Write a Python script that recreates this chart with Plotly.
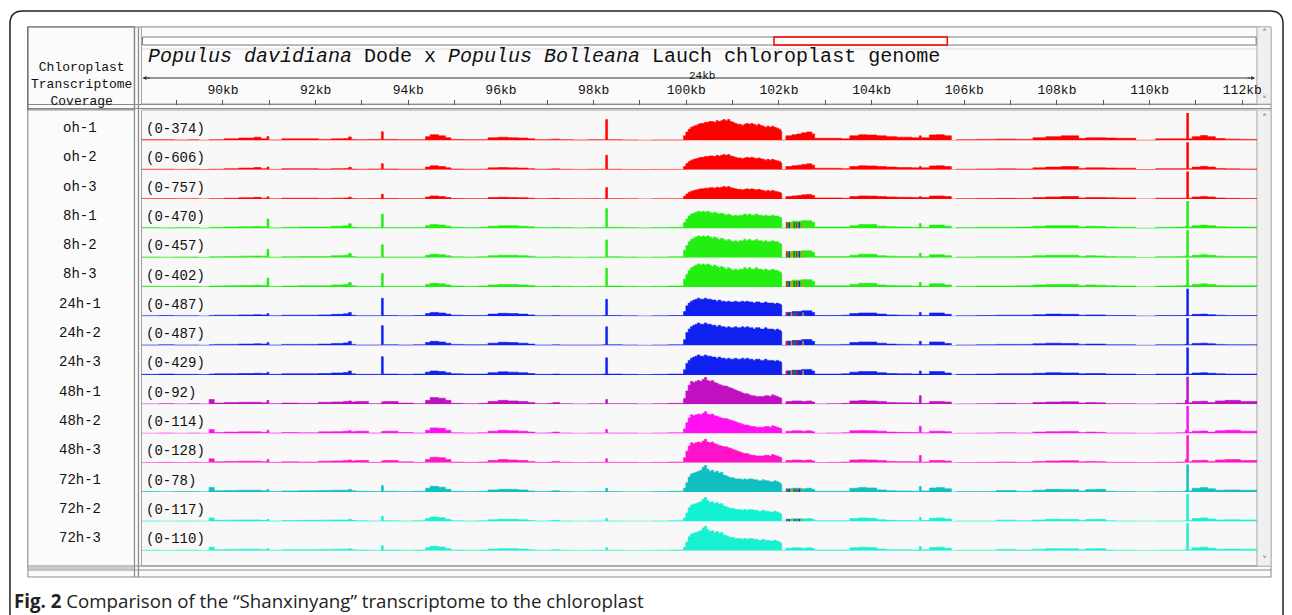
import plotly.graph_objects as go

W, H = 1292, 615

# ---------------- data ----------------
TRACKS = ["oh-1", "oh-2", "oh-3", "8h-1", "8h-2", "8h-3", "24h-1", "24h-2", "24h-3",
          "48h-1", "48h-2", "48h-3", "72h-1", "72h-2", "72h-3"]
RANGE_MAX = [374, 606, 757, 470, 457, 402, 487, 487, 429, 92, 114, 128, 78, 117, 110]
GROUP = ["oh", "oh", "oh", "8h", "8h", "8h", "24h", "24h", "24h",
         "48h", "48h", "48h", "72h", "72h", "72h"]
TRACK_COLORS = ["#ff0000", "#ff0000", "#ff0000",
                "#22ee11", "#22ee11", "#22ee11",
                "#1020ee", "#1020ee", "#1020ee",
                "#c010c0", "#ff10f0", "#ff12c8",
                "#10c0c0", "#12f2d2", "#18f0d0"]
# relative height of the main peak / of the rest, versus the first replicate of each group
PEAK_SCALE = [1.0, 0.73, 0.6, 1.0, 1.28, 1.35, 1.0, 1.25, 1.1, 1.0, 0.82, 0.88, 1.0, 0.9, 0.92]
BG_SCALE = [1.0, 0.7, 0.55, 1.0, 0.9, 0.95, 1.0, 1.1, 1.0, 1.0, 0.85, 0.85, 1.0, 0.75, 0.75]

# genomic positions (kb)
KB_LEFT = [88.24, 88.62, 88.95, 89.27, 89.48, 89.70, 89.81, 90.02, 90.34, 90.67,
           90.82, 90.95, 90.99, 91.27, 91.63, 92.06, 92.34, 92.60, 92.71, 92.77,
           92.86, 93.14, 93.42, 93.46, 93.78, 94.11, 94.37, 94.47, 94.65, 94.80,
           94.92, 95.18, 95.51, 95.72, 95.94, 96.15, 96.37, 96.58, 96.73, 97.01,
           97.12, 97.27, 97.55, 97.87, 98.19, 98.26, 98.30, 98.62, 98.95, 99.27,
           99.61]
KB_PEAK = [99.94, 99.99, 100.04, 100.09, 100.14, 100.19, 100.24, 100.29, 100.34, 100.39,
           100.44, 100.49, 100.54, 100.59, 100.64, 100.69, 100.74, 100.79, 100.84, 100.89,
           100.94, 100.99, 101.04, 101.09, 101.14, 101.19, 101.24, 101.29, 101.34, 101.39,
           101.44, 101.49, 101.54, 101.59, 101.64, 101.69, 101.74, 101.79, 101.84, 101.89,
           101.94, 101.99, 102.04]
KB_RIGHT = [102.06, 102.15, 102.28, 102.39, 102.49, 102.60, 102.71, 102.77, 103.03, 103.35,
            103.53, 103.72, 103.89, 104.11, 104.32, 104.54, 104.86, 105.03, 105.07, 105.25,
            105.40, 105.57, 105.72, 105.83, 106.26, 106.69, 107.12, 107.48, 107.76, 108.09,
            108.47, 108.62, 108.84, 109.05, 109.27, 109.70, 110.13, 110.56, 110.77, 110.80,
            110.84, 110.92, 111.10, 111.25, 111.42, 111.63, 111.96, 112.32]

# coverage, % of track data range (first replicate of each group)
LEFT = {
    "oh": [3, 3, 2, 3, 1, 3, 3, 6, 9, 12, 6, 15, 2, 6, 6, 4, 6, 7, 13, 4,
           3, 4, 32, 4, 3, 3, 14, 21, 17, 10, 4, 3, 3, 10, 12, 10, 9, 6, 3, 4,
           5, 3, 2, 3, 3, 76, 3, 2, 1, 2, 2],
    "8h": [3, 2, 3, 3, 1, 4, 4, 5, 6, 7, 6, 34, 2, 4, 5, 5, 8, 10, 17, 5,
           3, 3, 52, 3, 3, 3, 10, 14, 12, 8, 4, 3, 4, 8, 10, 10, 8, 6, 3, 3,
           4, 3, 2, 3, 3, 72, 4, 3, 2, 3, 4],
    "24h": [2, 3, 2, 2, 1, 3, 4, 4, 5, 6, 5, 10, 2, 4, 4, 5, 7, 9, 14, 4,
            2, 2, 66, 3, 2, 3, 10, 14, 12, 8, 4, 3, 3, 8, 11, 10, 8, 5, 2, 2,
            3, 2, 2, 2, 3, 62, 3, 2, 1, 2, 3],
    "48h": [1, 2, 1, 2, 1, 17, 4, 6, 7, 7, 5, 14, 2, 4, 3, 7, 8, 10, 12, 8,
            10, 2, 8, 10, 4, 2, 14, 24, 22, 14, 3, 2, 3, 10, 14, 12, 10, 6, 2, 3,
            6, 2, 1, 2, 2, 17, 2, 2, 1, 2, 3],
    "72h": [2, 1, 2, 2, 1, 17, 5, 6, 7, 7, 5, 10, 2, 4, 5, 6, 7, 7, 10, 5,
            3, 2, 24, 3, 2, 3, 14, 21, 18, 10, 3, 2, 3, 8, 10, 10, 8, 4, 2, 3,
            5, 2, 1, 2, 2, 14, 2, 1, 1, 2, 3],
}
PEAK = {
    "oh": [17, 31, 41, 48, 52, 55, 59, 62, 62, 66, 66, 69, 69, 66, 72, 69, 72, 76, 72, 76,
           69, 66, 62, 59, 59, 55, 59, 62, 59, 62, 59, 55, 59, 55, 52, 48, 52, 48, 52, 48,
           45, 41, 34],
    "8h": [21, 34, 45, 52, 55, 59, 62, 59, 62, 59, 62, 59, 55, 59, 55, 52, 55, 52, 48, 52,
           48, 45, 48, 45, 48, 48, 52, 48, 52, 48, 48, 52, 48, 48, 45, 48, 45, 45, 48, 45,
           45, 41, 38],
    "24h": [17, 38, 48, 55, 59, 62, 66, 62, 62, 66, 62, 62, 59, 59, 55, 59, 55, 55, 52, 55,
            52, 52, 55, 52, 52, 55, 52, 55, 52, 52, 48, 52, 52, 48, 48, 52, 48, 48, 48, 45,
            48, 45, 41],
    "48h": [21, 48, 69, 83, 79, 83, 86, 83, 90, 97, 86, 83, 86, 79, 76, 72, 69, 66, 66, 62,
            59, 55, 52, 48, 45, 41, 38, 38, 34, 31, 31, 28, 28, 28, 28, 31, 31, 28, 34, 31,
            28, 24, 21],
    "72h": [14, 34, 55, 66, 69, 72, 76, 79, 90, 97, 83, 76, 79, 72, 76, 69, 72, 62, 59, 55,
            52, 52, 48, 48, 48, 45, 48, 45, 48, 48, 45, 45, 41, 41, 45, 41, 41, 38, 38, 41,
            38, 34, 28],
}
RIGHT = {
    "oh": [1, 17, 21, 24, 28, 31, 24, 8, 8, 6, 17, 21, 20, 17, 14, 12, 10, 17, 10, 20,
           21, 17, 0, 3, 4, 5, 4, 10, 14, 17, 7, 10, 10, 9, 8, 1, 6, 6, 6, 200,
           6, 14, 18, 14, 7, 5, 4, 4],
    "8h": [1, 22, 26, 26, 28, 28, 22, 5, 5, 5, 10, 14, 14, 8, 6, 5, 4, 18, 4, 12,
           12, 8, 0, 3, 4, 4, 5, 8, 10, 10, 5, 8, 7, 5, 4, 1, 4, 5, 8, 200,
           5, 10, 12, 10, 6, 5, 5, 5],
    "24h": [1, 14, 17, 17, 20, 20, 14, 3, 3, 4, 10, 12, 12, 8, 5, 4, 3, 14, 3, 12,
            12, 7, 0, 2, 3, 4, 4, 6, 8, 7, 4, 5, 5, 3, 3, 1, 3, 3, 5, 200,
            3, 7, 8, 6, 4, 3, 3, 4],
    "48h": [1, 10, 12, 12, 10, 12, 8, 1, 2, 3, 12, 13, 12, 10, 6, 5, 4, 31, 3, 10,
            10, 8, 0, 1, 2, 3, 2, 6, 8, 9, 4, 6, 5, 2, 2, 1, 2, 3, 14, 200,
            5, 10, 11, 6, 12, 14, 10, 6],
    "72h": [1, 12, 14, 14, 12, 14, 10, 3, 3, 3, 14, 17, 15, 8, 5, 4, 3, 20, 4, 15,
            17, 12, 0, 2, 2, 6, 3, 7, 10, 9, 4, 9, 10, 3, 2, 1, 2, 2, 6, 200,
            4, 14, 17, 12, 7, 8, 7, 6],
}

# mismatch-coloured columns (IGV allele colours) on the hump just right of the main peak
MISMATCH_KB = [102.17, 102.22, 102.27, 102.33, 102.38, 102.44, 102.52]
MISMATCH_COLORS = ["#e02020", "#2030d0", "#e09000", "#109010", "#e02020", "#2030d0", "#e09000"]
MISMATCH_TRACKS = [3, 4, 5, 6, 7, 8, 12, 13]
MISMATCH_PCT = [22, 24, 22, 14, 18, 16, 12, 9]

TICK_KB = [88, 89, 90, 91, 92, 93, 94, 95, 96, 97, 98, 99, 100, 101, 102, 103, 104,
           105, 106, 107, 108, 109, 110, 111, 112]
TICK_TEXT = ["", "", "90kb", "", "92kb", "", "94kb", "", "96kb", "", "98kb", "",
             "100kb", "", "102kb", "", "104kb", "", "106kb", "", "108kb", "", "110kb",
             "", "112kb"]
X_RANGE = [88.24, 112.32]
SPAN_LABEL = "24kb"
TITLE = "<i>Populus davidiana</i> Dode x <i>Populus Bolleana</i> Lauch chloroplast genome"
PANEL_HEADER = "Chloroplast<br>Transcriptome<br>Coverage"
CAPTION = "<b>Fig. 2</b> Comparison of the “Shanxinyang” transcriptome to the chloroplast"

# ---------------- layout helpers (pixels -> paper) ----------------
def X(px):
    return px / W


def Y(py):
    return 1 - py / H


MONO = "Liberation Mono"
ROW0_BASE = 141.0
ROW_STEP = 29.3
shapes = []
annotations = []


def rect(x0, y0, x1, y1, color="#999999", width=1, fill="rgba(0,0,0,0)", layer="below"):
    shapes.append(dict(type="rect", xref="paper", yref="paper",
                       x0=X(x0), x1=X(x1), y0=Y(y1), y1=Y(y0),
                       line=dict(color=color, width=width), fillcolor=fill, layer=layer))


def line(x0, y0, x1, y1, color="#999999", width=1, layer="below"):
    shapes.append(dict(type="line", xref="paper", yref="paper",
                       x0=X(x0), x1=X(x1), y0=Y(y0), y1=Y(y1),
                       line=dict(color=color, width=width), layer=layer))


def text(px, py, s, size=13, family=MONO, color="#111111", xanchor="center",
         yanchor="middle", pad=1):
    annotations.append(dict(xref="paper", yref="paper", x=X(px), y=Y(py), text=s,
                            showarrow=False, xanchor=xanchor, yanchor=yanchor, borderpad=pad,
                            font=dict(family=family, size=size, color=color)))


fig = go.Figure()

# ---------------- coverage tracks ----------------
kb_all = KB_LEFT + KB_PEAK + KB_RIGHT
layout_axes = {}
for i, name in enumerate(TRACKS):
    g = GROUP[i]
    vals = ([v * BG_SCALE[i] for v in LEFT[g]] +
            [v * PEAK_SCALE[i] for v in PEAK[g]] +
            [v * BG_SCALE[i] for v in RIGHT[g]])
    yname = "y" if i == 0 else f"y{i + 1}"
    fig.add_trace(go.Scatter(x=kb_all, y=vals, xaxis="x", yaxis=yname, mode="lines",
                             line=dict(shape="hv", width=0.6, color=TRACK_COLORS[i]),
                             fill="tozeroy", fillcolor=TRACK_COLORS[i],
                             hoverinfo="skip", showlegend=False))
    if i in MISMATCH_TRACKS:
        pct = MISMATCH_PCT[MISMATCH_TRACKS.index(i)]
        for col in dict.fromkeys(MISMATCH_COLORS):
            xs, ys = [], []
            for kb, c in zip(MISMATCH_KB, MISMATCH_COLORS):
                if c == col:
                    xs += [kb, kb, None]
                    ys += [0, pct, None]
            fig.add_trace(go.Scatter(x=xs, y=ys, xaxis="x", yaxis=yname, mode="lines",
                                     line=dict(color=col, width=1.6),
                                     hoverinfo="skip", showlegend=False))
    base = ROW0_BASE + ROW_STEP * i
    key = "yaxis" if i == 0 else f"yaxis{i + 1}"
    layout_axes[key] = dict(domain=[Y(base - 0.5), Y(base - 28)], range=[0, 100],
                            visible=False, fixedrange=True, anchor="x")
    # baseline
    line(142, base + 0.5, 1262, base + 0.5, color="#b4b4b4", width=2, layer="below")
    # labels
    text(80, 128 + ROW_STEP * i, name, size=14)
    text(145, 129 + ROW_STEP * i, f"(0-{RANGE_MAX[i]})", size=14, xanchor="left")

# ---------------- frame / panels ----------------
path = (f"M {X(10)},{Y(615)} L {X(10)},{Y(24)} Q {X(10)},{Y(11)} {X(23)},{Y(11)} "
        f"L {X(1275)},{Y(11)} Q {X(1288)},{Y(11)} {X(1288)},{Y(24)} L {X(1288)},{Y(615)}")
shapes.append(dict(type="path", xref="paper", yref="paper", path=path,
                   line=dict(color="#222222", width=1.5), layer="below"))

rect(28, 27, 1276, 577, color="#8a8a8a", fill="#fafafa")           # window
rect(142, 27, 1262, 104, color="#a0a0a0", fill="#fbfbfb")          # header pane
rect(142, 110, 1262, 566, color="#a0a0a0", fill="#f8f8f8")         # track pane
rect(28, 27, 135, 110, color="#555555", width=1.2, fill="#fbfbfb")  # name header cell
rect(28, 110, 135, 568, color="#9a9a9a", fill="#fbfbfb")            # name pane
line(135, 27, 135, 577, color="#8a8a8a", width=1.2)
line(139, 27, 139, 577, color="#8a8a8a", width=1.2)
line(28, 104.5, 1276, 104.5, color="#8a8a8a", width=1.2)
line(28, 108.5, 1276, 108.5, color="#8a8a8a", width=1.2)
line(28, 566, 1276, 566, color="#8a8a8a", width=1.2)
line(28, 570, 1276, 570, color="#8a8a8a", width=1.2)
line(143, 49, 1262, 49, color="#dddddd", width=1)
# scroll bars
rect(1262, 27, 1276, 104, color="#bdbdbd", fill="#f0f0f0")
rect(1262, 110, 1276, 566, color="#bdbdbd", fill="#f0f0f0")
text(1269, 33, "˄", size=10, family="DejaVu Sans", color="#777777")
text(1269, 101, "˅", size=10, family="DejaVu Sans", color="#777777")
text(1269, 118, "˄", size=10, family="DejaVu Sans", color="#777777")
text(1269, 560, "˅", size=10, family="DejaVu Sans", color="#777777")

# chromosome ideogram and current-view box
rect(143, 37, 1261, 45, color="#7a7a7a", fill="#ffffff", layer="above")
rect(777, 37, 951, 45, color="#ff0000", width=1.5, layer="above")

# ruler span arrow
line(147, 78, 1255, 78, color="#333333", width=1, layer="above")
for tip, ax in ((143, 9), (1260, -9)):
    annotations.append(dict(xref="paper", yref="paper", x=X(tip), y=Y(78), ax=ax, ay=0,
                            text="", showarrow=True, arrowhead=2, arrowsize=0.8,
                            arrowwidth=1, arrowcolor="#333333"))
text(705, 75.5, SPAN_LABEL, size=11, family=MONO, color="#111111", pad=0)

# title
text(148, 56.5, TITLE, size=20, family=MONO, color="#111111", xanchor="left", pad=0)
# name-panel header
text(82, 84, PANEL_HEADER, size=13, family=MONO, color="#111111")
# caption
text(12, 600, CAPTION, size=18.7, family="Open Sans", color="#222222", xanchor="left")

fig.update_layout(
    width=W, height=H, autosize=False,
    margin=dict(l=0, r=0, t=0, b=0),
    paper_bgcolor="#ffffff", plot_bgcolor="rgba(0,0,0,0)",
    showlegend=False,
    xaxis=dict(domain=[X(142), X(1262)], range=X_RANGE, anchor="free", position=Y(104.5),
               side="top", showgrid=False, zeroline=False, showline=False,
               ticks="outside", ticklen=5, tickwidth=1, tickcolor="#555555",
               tickvals=TICK_KB, ticktext=TICK_TEXT, fixedrange=True,
               tickfont=dict(family=MONO, size=13, color="#111111")),
    shapes=shapes,
    annotations=annotations,
    **layout_axes,
)

fig.write_html("out.html")
